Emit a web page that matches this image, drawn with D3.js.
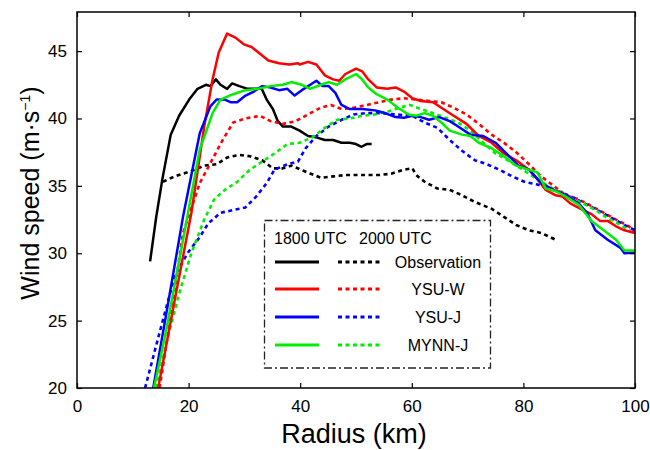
<!DOCTYPE html>
<html>
<head>
<meta charset="utf-8">
<script src="https://cdn.jsdelivr.net/npm/d3@7"></script>
<style>
  body { margin: 0; background: #fff; }
  svg text { font-family: "Liberation Sans", Arial, Helvetica, sans-serif; fill: #000; }
</style>
</head>
<body>
<div id="chart"></div>
<script>
// radius (km), wind speed (m/s)
const obs18 = [[13.1,29.4],[14.2,32.7],[15.3,35.5],[16.8,38.8],[18.3,40.2],[20.1,41.4],[21.6,42.2],[23.1,42.5],[23.9,42.4],[24.9,42.9],[25.7,42.5],[26.9,42.2],[27.8,42.6],[29.1,42.4],[30.6,42.2],[32.1,42.2],[33.1,42.2],[34.0,41.4],[35.1,40.7],[36.0,39.8],[36.9,39.4],[38.4,39.4],[39.9,39.1],[41.4,38.7],[42.9,38.6],[44.4,38.4],[45.9,38.4],[47.4,38.2],[48.9,38.2],[50.0,38.1],[51.0,37.9],[51.9,38.1],[52.8,38.1]]
const obs20 = [[15.4,35.3],[17.5,35.7],[20.5,36.1],[22.8,36.5],[25.0,36.6],[26.9,37.1],[29.1,37.3],[31.0,37.2],[33.2,36.9],[35.1,36.3],[36.9,36.3],[38.4,36.5],[40.7,36.1],[43.7,35.6],[45.9,35.7],[48.1,35.8],[51.1,35.8],[54.1,35.8],[56.3,35.9],[58.6,36.2],[60.1,36.3],[60.8,35.8],[62.3,35.3],[64.6,34.8],[66.8,34.7],[69.0,34.3],[71.3,33.8],[74.3,33.3],[76.5,32.7],[78.7,32.1],[81.0,31.7],[83.2,31.5],[85.8,31.0]]
const ysuw18 = [[14.55,20],[17.5,26.5],[20.5,33.0],[22.8,39.4],[24.3,42.9],[25.4,44.9],[26.9,46.3],[28.4,46.0],[29.9,45.5],[31.3,45.3],[32.8,44.8],[34.3,44.3],[36.2,44.1],[38.1,44.0],[39.6,44.1],[39.9,44.0],[41.4,44.2],[42.9,44.0],[44.4,43.2],[45.9,42.9],[47.0,42.8],[48.1,43.3],[50.0,43.7],[51.1,43.5],[52.2,42.9],[53.7,42.3],[55.6,42.2],[57.1,42.3],[58.6,42.0],[60.1,41.5],[61.6,41.3],[63.8,41.2],[65.3,40.8],[67.5,40.2],[69.8,39.6],[72.0,38.7],[74.3,38.2],[76.5,37.4],[78.7,36.9],[81.0,36.2],[82.5,35.5],[84.0,34.7],[85.8,34.3],[87.0,34.2],[88.4,33.7],[90.7,33.2],[92.2,32.9],[93.7,32.4],[95.1,32.4],[96.6,32.0],[98.1,31.7],[100,31.5]]
const ysuw20 = [[14.8,20],[16.8,25.3],[19.0,31.5],[22.0,35.2],[24.3,37.0],[26.1,38.4],[28.0,39.7],[30.2,40.0],[32.8,40.2],[34.7,39.8],[36.9,39.6],[39.2,39.8],[41.4,40.3],[43.7,40.8],[45.5,41.0],[47.4,40.7],[49.6,40.8],[51.9,41.0],[54.1,41.2],[56.3,41.4],[58.6,41.5],[60.8,41.4],[63.1,41.3],[65.3,41.2],[67.5,40.8],[69.8,40.3],[72.0,39.6],[74.3,38.8],[76.5,38.2],[78.7,37.5],[81.0,36.6],[83.2,35.7],[85.4,35.0],[87.6,34.3],[89.9,34.0],[92.2,33.5],[94.4,33.0],[96.6,32.5],[98.9,32.0],[100,31.6]]
const ysuj18 = [[13.66,20],[16.0,25.5],[19.0,32.7],[22.0,38.9],[23.9,40.9],[25.0,41.4],[26.5,41.4],[27.6,41.2],[28.7,41.2],[30.2,41.7],[31.7,42.0],[33.2,42.4],[34.7,42.3],[36.2,42.1],[37.7,42.2],[39.0,41.7],[40.3,42.1],[41.8,42.5],[42.9,42.8],[44.0,42.4],[45.1,42.4],[46.3,41.9],[47.4,41.0],[48.9,40.7],[51.1,40.7],[53.4,40.6],[55.2,40.4],[57.1,40.1],[58.6,40.05],[60.1,40.2],[61.6,40.1],[63.1,39.9],[64.9,40.1],[66.8,39.8],[68.3,39.4],[70.5,38.8],[72.8,38.7],[75.0,38.2],[77.2,37.3],[79.1,36.5],[81.0,36.2],[83.2,35.2],[85.4,34.7],[87.6,34.3],[89.9,33.7],[91.4,33.0],[92.9,31.7],[95.1,31.0],[97.4,30.4],[98.1,30.0],[100,30.05]]
const ysuj20 = [[12.2,20],[14.6,23.8],[17.5,28.3],[19.8,30.0],[22.0,31.2],[23.5,32.2],[25.7,33.0],[28.0,33.2],[30.2,33.4],[32.1,34.2],[34.0,35.2],[35.4,36.2],[37.7,36.6],[39.6,36.8],[41.0,37.8],[42.9,38.7],[45.1,39.4],[47.4,39.9],[49.6,40.3],[51.9,40.4],[54.1,40.4],[57.1,40.3],[60.1,40.2],[62.3,39.7],[64.6,39.3],[66.8,38.4],[69.0,37.6],[71.3,36.9],[73.5,36.6],[75.7,36.2],[78.0,35.7],[80.2,35.3],[82.5,35.1],[84.7,34.8],[86.9,34.5],[89.1,34.1],[91.4,33.6],[93.7,33.1],[95.9,32.6],[98.1,32.1],[100,31.7]]
const mynn18 = [[13.8,20],[16.0,24.3],[19.0,31.0],[22.0,37.7],[24.3,40.4],[25.7,41.4],[28.0,41.8],[30.2,42.1],[32.5,42.2],[34.7,42.4],[36.9,42.5],[38.4,42.7],[40.3,42.5],[41.8,42.2],[43.7,42.5],[45.1,42.7],[46.6,42.5],[48.1,42.9],[50.0,43.3],[51.1,42.9],[52.2,42.3],[53.7,41.8],[55.6,41.4],[57.5,40.8],[59.4,40.3],[60.8,40.2],[62.3,40.4],[63.8,40.2],[65.3,39.7],[66.8,39.1],[69.0,38.8],[70.5,38.7],[72.0,38.2],[74.3,37.8],[76.5,37.2],[78.7,36.5],[80.2,36.3],[82.5,36.0],[84.0,34.8],[85.8,34.6],[87.6,34.2],[89.9,33.6],[92.2,32.4],[94.4,31.7],[96.6,31.0],[98.1,30.2],[100,30.2]]
const mynn20 = [[14.2,20],[16.0,23.3],[18.3,27.0],[20.5,30.0],[22.8,32.5],[24.6,34.0],[26.5,34.7],[28.7,35.3],[31.0,36.2],[33.2,36.8],[35.4,37.4],[37.7,38.1],[39.9,38.2],[42.2,38.6],[44.4,39.3],[46.6,39.9],[48.9,40.0],[51.1,40.2],[53.4,40.3],[55.6,40.5],[57.8,40.8],[59.7,41.0],[61.6,40.7],[63.8,40.4],[66.0,40.05],[68.3,39.7],[70.5,39.1],[72.8,38.2],[75.0,37.4],[77.2,36.9],[79.5,36.3],[81.7,35.7],[84.0,35.1],[86.2,34.6],[88.4,34.1],[90.7,33.7],[92.9,33.2],[95.1,32.6],[97.4,32.1],[100,31.4]]

const xTicks = [0, 20, 40, 60, 80, 100]
const yTicks = [20, 25, 30, 35, 40, 45]
const legendNames = ['Observation', 'YSU-W', 'YSU-J', 'MYNN-J']
const colors = ['#000000', '#ff0000', '#0000ff', '#00ee00']

const series = [
  { data: obs18, c: 0, dot: false }, { data: obs20, c: 0, dot: true },
  { data: ysuw20, c: 1, dot: true }, { data: ysuj20, c: 2, dot: true },
  { data: mynn20, c: 3, dot: true },
  { data: ysuw18, c: 1, dot: false }, { data: ysuj18, c: 2, dot: false },
  { data: mynn18, c: 3, dot: false }
]

const W = 650, H = 450
const mLeft = 77, mRight = 635, mTop = 12, mBottom = 388

const svg = d3.select('#chart').append('svg').attr('width', W).attr('height', H)
const x = d3.scaleLinear().domain([0, 100]).range([mLeft, mRight])
const y = d3.scaleLinear().domain([20, 47.9]).range([mBottom, mTop])

svg.append('clipPath').attr('id', 'clip')
  .append('rect').attr('x', mLeft).attr('y', mTop).attr('width', mRight - mLeft).attr('height', mBottom - mTop)

// 曲线
const line = d3.line().x(d => x(d[0])).y(d => y(d[1]))
const lines = svg.append('g').attr('clip-path', 'url(#clip)')
series.forEach(s => {
  lines.append('path').attr('d', line(s.data))
    .attr('fill', 'none').attr('stroke', colors[s.c])
    .attr('stroke-width', s.dot ? 2.6 : 2.5)
    .attr('stroke-dasharray', s.dot ? '4,3.5' : null)
    .attr('stroke-linejoin', 'round')
})

// 坐标轴
const fixAxis = g => {
  g.select('.domain').remove()
  g.selectAll('line').attr('stroke', '#000').attr('stroke-width', 1.2)
  g.selectAll('text').style('font-size', '17px').attr('fill', '#000')
}
svg.append('g').attr('transform', `translate(0,${mBottom})`)
  .call(d3.axisBottom(x).tickValues(xTicks).tickSizeInner(-5).tickSizeOuter(0).tickPadding(12))
  .call(fixAxis)
svg.append('g').attr('transform', `translate(0,${mTop})`)
  .call(d3.axisTop(x).tickValues(xTicks).tickSizeInner(-5).tickSizeOuter(0).tickFormat(''))
  .call(fixAxis)
svg.append('g').attr('transform', `translate(${mLeft},0)`)
  .call(d3.axisLeft(y).tickValues(yTicks).tickSizeInner(-5).tickSizeOuter(0).tickPadding(10))
  .call(fixAxis)
svg.append('g').attr('transform', `translate(${mRight},0)`)
  .call(d3.axisRight(y).tickValues(yTicks).tickSizeInner(-5).tickSizeOuter(0).tickFormat(''))
  .call(fixAxis)

svg.append('rect').attr('x', mLeft).attr('y', mTop)
  .attr('width', mRight - mLeft).attr('height', mBottom - mTop)
  .attr('fill', 'none').attr('stroke', '#000').attr('stroke-width', 1.5)

svg.append('text').text('Radius (km)')
  .attr('x', (mLeft + mRight) / 2 - 2).attr('y', 443)
  .attr('text-anchor', 'middle').style('font-size', '27px')
const yl = svg.append('text')
  .attr('transform', `translate(39,193) rotate(-90)`)
  .attr('text-anchor', 'middle').style('font-size', '25px')
yl.append('tspan').text('Wind speed (m·s')
yl.append('tspan').text('−1').attr('dy', -9).style('font-size', '14px')
yl.append('tspan').text(')').attr('dy', 9)

// 图例
const lg = svg.append('g')
lg.append('rect').attr('x', 264.5).attr('y', 220.5).attr('width', 226).attr('height', 147.5)
  .attr('fill', '#fff').attr('stroke', '#222').attr('stroke-width', 1.3)
  .attr('stroke-dasharray', '8,3,2,3')
lg.append('text').text('1800 UTC').attr('x', 274).attr('y', 244).style('font-size', '16px')
lg.append('text').text('2000 UTC').attr('x', 359).attr('y', 244).style('font-size', '16px')
const rowY = [262, 289, 317, 345]
legendNames.forEach((name, i) => {
  lg.append('line').attr('x1', 275).attr('x2', 319).attr('y1', rowY[i]).attr('y2', rowY[i])
    .attr('stroke', colors[i]).attr('stroke-width', 2.8)
  lg.append('line').attr('x1', 338).attr('x2', 382).attr('y1', rowY[i]).attr('y2', rowY[i])
    .attr('stroke', colors[i]).attr('stroke-width', 2.8).attr('stroke-dasharray', '4,3.5')
  lg.append('text').text(name).attr('x', 438).attr('y', rowY[i] + 6)
    .attr('text-anchor', 'middle').style('font-size', '16px')
})
</script>
</body>
</html>
